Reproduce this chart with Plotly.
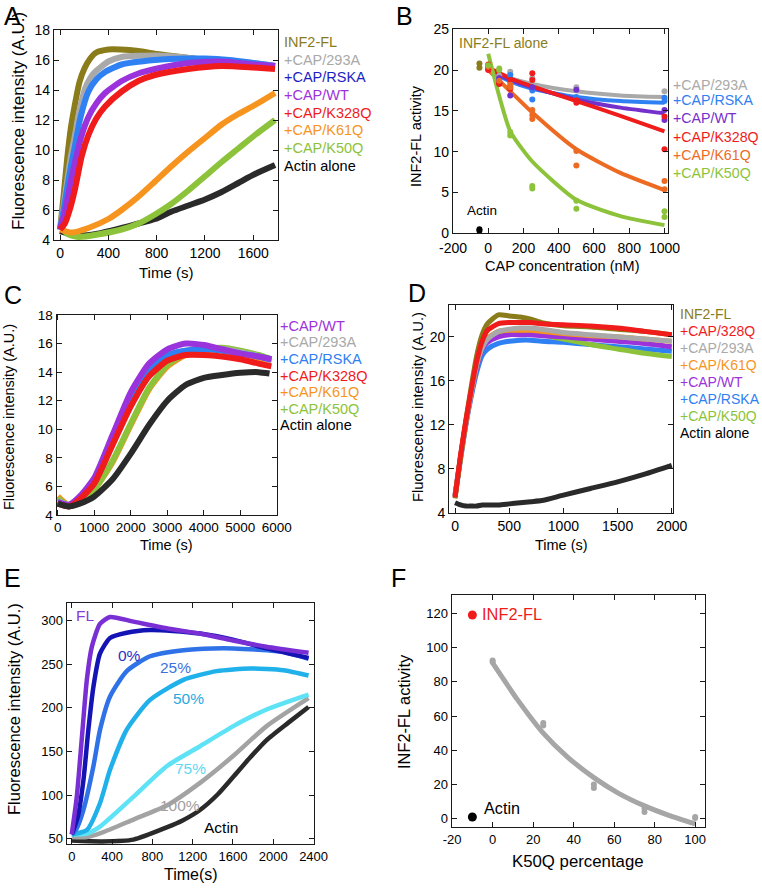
import plotly.graph_objects as go

W, H = 762, 888
FONT = "Liberation Sans, Arial, Helvetica, sans-serif"

OLIVE = "#8a7c1a"
GRAY = "#a9a9a9"
BLUE = "#2f80f2"
NAVY = "#1e1ec4"
PURPLE = "#9b33dc"
VIOLET = "#7530cc"
RED = "#f01b1b"
ORANGE = "#f7941d"
DKORANGE = "#ec6a22"
GREEN = "#8cc33a"
BLACK = "#2a2a2a"

# ---------------- panel A (time in s, fluorescence A.U.)
a_t_fl = [0, 30, 60, 90, 120, 160, 200, 250, 300, 400, 500, 650, 800, 1000, 1200, 1400, 1600, 1780]
a_fl = [4.7, 7.0, 9.5, 11.5, 12.9, 14.5, 15.4, 16.1, 16.5, 16.7, 16.7, 16.6, 16.4, 16.2, 16.0, 15.9, 15.7, 15.6]
a_t_293a = [0, 30, 60, 90, 124, 160, 207, 250, 290, 400, 510, 800, 1000, 1200, 1400, 1600, 1780]
a_293a = [4.7, 6.3, 8.0, 9.6, 11.0, 12.6, 14.1, 14.8, 15.2, 15.9, 16.2, 16.3, 16.2, 16.0, 15.9, 15.8, 15.6]
a_t_rska = [0, 30, 60, 90, 124, 170, 235, 300, 373, 510, 786, 1062, 1200, 1400, 1600, 1780]
a_rska = [4.7, 6.0, 7.5, 8.9, 10.3, 12.2, 13.9, 14.7, 15.2, 15.7, 16.0, 16.1, 16.1, 16.0, 15.8, 15.6]
a_t_wt = [0, 40, 80, 124, 180, 235, 300, 373, 510, 648, 786, 1062, 1338, 1600, 1780]
a_wt = [4.7, 5.9, 7.5, 9.2, 11.0, 12.2, 13.1, 13.8, 14.6, 15.1, 15.4, 15.8, 15.9, 15.7, 15.6]
a_t_k328q = [0, 40, 80, 124, 180, 235, 300, 373, 510, 648, 786, 1062, 1338, 1600, 1780]
a_k328q = [4.7, 5.1, 6.0, 7.4, 9.6, 11.0, 12.1, 12.9, 13.9, 14.6, 15.0, 15.4, 15.6, 15.5, 15.4]
a_t_k61q = [0, 100, 235, 400, 510, 650, 786, 920, 1062, 1200, 1338, 1476, 1614, 1780]
a_k61q = [4.7, 4.5, 4.8, 5.4, 6.0, 6.9, 7.9, 8.9, 9.9, 10.8, 11.7, 12.4, 13.0, 13.8]
a_t_k50q = [0, 60, 150, 300, 510, 650, 786, 920, 1062, 1200, 1338, 1476, 1614, 1780]
a_k50q = [5.0, 4.4, 4.2, 4.35, 4.7, 5.1, 5.7, 6.4, 7.3, 8.25, 9.2, 10.1, 11.0, 12.0]
a_t_actin = [0, 150, 300, 510, 650, 786, 924, 1062, 1200, 1338, 1476, 1614, 1780]
a_actin = [4.6, 4.3, 4.4, 4.8, 5.1, 5.4, 5.9, 6.3, 6.7, 7.2, 7.8, 8.4, 9.0]

# ---------------- panel B (CAP nM vs activity)
b_fit_x = [0, 125, 250, 500, 750, 1000]
b_fit_293a = [20.0, 19.0, 18.3, 17.4, 16.9, 16.7]
b_fit_rska = [20.0, 18.6, 17.7, 16.7, 16.2, 16.0]
b_fit_wt = [20.0, 18.8, 17.9, 16.4, 15.4, 14.7]
b_fit_k328q = [20.3, 19.0, 18.0, 16.2, 14.4, 12.5]
b_fit_k61q = [20.0, 17.4, 14.8, 10.3, 7.4, 5.3]
b_fit_x50 = [0, 62.5, 125, 250, 500, 750, 1000]
b_fit_k50q = [22.0, 16.8, 12.5, 8.8, 4.1, 2.1, 1.0]

b_293a_x = [0, 0, 62.5, 125, 125, 250, 500, 1000]
b_293a_y = [20.5, 20.3, 19.3, 19.8, 19.5, 19.0, 17.9, 17.4]
b_rska_x = [0, 62.5, 125, 125, 250, 250, 500, 1000, 1000]
b_rska_y = [20.3, 19.0, 19.4, 18.6, 17.5, 16.4, 16.7, 16.6, 16.2]
b_wt_x = [0, 62.5, 62.5, 125, 125, 250, 500, 1000, 1000]
b_wt_y = [20.1, 19.0, 18.6, 18.0, 16.9, 17.9, 17.6, 15.1, 13.9]
b_k328q_x = [0, 0, 62.5, 62.5, 125, 125, 250, 250, 500, 500, 1000, 1000]
b_k328q_y = [20.7, 20.0, 18.4, 18.3, 18.8, 17.7, 19.6, 18.8, 16.0, 16.3, 14.3, 10.3]
b_k61q_x = [0, 62.5, 125, 125, 250, 250, 250, 500, 500, 1000, 1000]
b_k61q_y = [20.4, 18.7, 18.2, 17.9, 15.1, 14.5, 14.0, 10.1, 8.3, 6.4, 5.4]
b_k50q_x = [0, 62.5, 62.5, 125, 125, 250, 250, 500, 500, 1000, 1000]
b_k50q_y = [20.6, 20.2, 20.0, 12.4, 12.0, 5.8, 5.5, 4.0, 3.0, 2.7, 2.0]
b_fl_x = [-50, -50]
b_fl_y = [20.8, 20.3]
b_actin_x = [-50, -50]
b_actin_y = [0.5, 0.3]
b_xticks = [-200, 0, 200, 400, 600, 800, 1000]
b_xticktext = ["-200", "0", "200", "400", "600", "800", "1000"]

# ---------------- panel C
c_t = [0, 300, 600, 1000, 1500, 2000, 2500, 3000, 3500, 4000, 4500, 5000, 5500, 5850]
c_wt = [4.9, 4.7, 5.3, 6.6, 9.6, 12.6, 14.6, 15.6, 16.0, 15.9, 15.6, 15.3, 15.1, 14.9]
c_rska = [4.9, 4.7, 5.2, 6.4, 9.3, 12.2, 14.2, 15.2, 15.5, 15.6, 15.5, 15.3, 15.1, 14.9]
c_293a = [5.0, 4.7, 5.2, 6.3, 9.0, 11.9, 14.0, 15.1, 15.5, 15.6, 15.6, 15.4, 15.1, 14.8]
c_k328q = [4.8, 4.6, 5.1, 6.2, 8.9, 11.6, 13.7, 14.8, 15.2, 15.2, 15.1, 14.9, 14.6, 14.4]
c_k61q = [5.3, 4.7, 5.0, 5.8, 7.7, 10.3, 12.8, 14.4, 15.2, 15.5, 15.6, 15.4, 15.0, 14.7]
c_k50q = [5.2, 4.6, 5.0, 5.8, 7.8, 10.4, 12.9, 14.5, 15.3, 15.6, 15.7, 15.5, 15.2, 14.9]
c_t_actin = [0, 300, 600, 1000, 1500, 2000, 2500, 3000, 3500, 4000, 4500, 5000, 5500, 5800]
c_actin = [4.8, 4.6, 4.8, 5.3, 6.5, 8.3, 10.3, 12.0, 13.1, 13.6, 13.8, 13.95, 14.0, 13.9]

# ---------------- panel D
d_t = [0, 50, 100, 150, 200, 250, 300, 400, 500, 600, 700, 800, 1000, 1250, 1500, 1750, 2000]
d_fl = [5.3, 9.0, 12.4, 15.5, 18.3, 20.2, 21.2, 22.0, 21.9, 21.8, 21.6, 21.3, 21.0, 20.9, 20.7, 20.5, 20.2]
d_328q = [5.4, 9.2, 12.4, 15.2, 17.8, 19.6, 20.6, 21.2, 21.3, 21.3, 21.3, 21.2, 21.1, 21.0, 20.8, 20.5, 20.2]
d_293a = [5.5, 9.0, 12.2, 15.0, 17.5, 19.0, 19.8, 20.5, 20.7, 20.8, 20.8, 20.7, 20.4, 20.2, 20.0, 19.8, 19.6]
d_k61q = [5.5, 9.0, 12.2, 15.0, 17.5, 19.1, 19.9, 20.5, 20.6, 20.6, 20.6, 20.5, 20.3, 20.1, 20.0, 19.8, 19.6]
d_wt = [5.6, 9.0, 12.1, 14.9, 17.3, 18.9, 19.5, 20.0, 20.2, 20.2, 20.2, 20.1, 20.0, 19.8, 19.6, 19.4, 19.1]
d_rska = [5.5, 8.8, 12.0, 14.6, 16.8, 18.3, 18.9, 19.4, 19.6, 19.7, 19.7, 19.6, 19.5, 19.3, 19.1, 18.9, 18.7]
d_k50q = [5.6, 9.0, 12.2, 15.0, 17.4, 19.0, 19.8, 20.3, 20.4, 20.4, 20.4, 20.2, 19.8, 19.3, 18.9, 18.5, 18.2]
d_actin = [4.9, 4.7, 4.6, 4.6, 4.6, 4.7, 4.7, 4.7, 4.8, 4.9, 5.0, 5.1, 5.6, 6.2, 6.8, 7.5, 8.3]

# ---------------- panel E
e_t_fl = [0, 50, 100, 150, 200, 280, 380, 600, 940, 1270, 1600, 1930, 2350]
e_fl = [55, 98, 165, 232, 270, 296, 304, 299, 291, 285, 277, 270, 263]
e_t_0 = [0, 60, 116, 165, 215, 280, 380, 546, 777, 1000, 1273, 1600, 1934, 2350]
e_0 = [55, 75, 117, 175, 224, 262, 280, 286, 289, 288, 285, 278, 268, 257]
e_t_25 = [0, 50, 116, 215, 281, 380, 546, 777, 1108, 1400, 1604, 2100, 2350]
e_25 = [55, 62, 83, 133, 175, 213, 242, 259, 266, 268, 268, 264, 256]
e_t_50 = [0, 150, 281, 380, 546, 777, 1108, 1438, 1769, 2100, 2350]
e_50 = [55, 60, 91, 129, 175, 209, 232, 242, 245, 243, 237]
e_t_75 = [0, 150, 281, 612, 942, 1273, 1604, 1934, 2350]
e_75 = [55, 56, 64, 98, 133, 156, 179, 198, 215]
e_t_100 = [0, 150, 300, 612, 942, 1273, 1604, 1934, 2350]
e_100 = [52, 52, 57, 72, 88, 114, 145, 179, 211]
e_t_actin = [0, 300, 612, 942, 1100, 1273, 1450, 1604, 1770, 1934, 2150, 2350]
e_actin = [48, 47, 49, 63, 71, 83, 101, 121, 143, 163, 183, 201]

# ---------------- panel F
f_fit_x = [0, 12, 25, 37, 50, 62, 75, 87, 100]
f_fit_y = [91, 70, 50, 36, 24, 15, 7.5, 2, -3]
f_pts_x = [0, 0, 25, 25, 50, 50, 75, 75, 100, 100]
f_pts_y = [92.5, 91.5, 56, 54.5, 20, 18, 6, 4, 1, 0.5]
f_fl_x = [-10]
f_fl_y = [119]
f_actin_x = [-10]
f_actin_y = [1]
f_xticks = [-20, 0, 20, 40, 60, 80, 100]
f_xticktext = ["-20", "0", "20", "40", "60", "80", "100"]

fig = go.Figure()


def curve(ax, x, y, color, width):
    fig.add_trace(go.Scatter(x=x, y=y, mode="lines", line=dict(color=color, width=width, shape="spline", smoothing=0.6),
                             xaxis="x" + ax, yaxis="y" + ax, showlegend=False, hoverinfo="skip"))


def dots(ax, x, y, color, size):
    fig.add_trace(go.Scatter(x=x, y=y, mode="markers", marker=dict(color=color, size=size),
                             xaxis="x" + ax, yaxis="y" + ax, showlegend=False, hoverinfo="skip"))


# A
for t, v, c in [(a_t_actin, a_actin, BLACK), (a_t_k50q, a_k50q, GREEN), (a_t_k61q, a_k61q, ORANGE),
                (a_t_fl, a_fl, OLIVE), (a_t_293a, a_293a, GRAY), (a_t_rska, a_rska, BLUE),
                (a_t_wt, a_wt, PURPLE), (a_t_k328q, a_k328q, RED)]:
    curve("", t, v, c, 6)

# B
for x, y, c in [(b_fit_x, b_fit_293a, GRAY), (b_fit_x, b_fit_rska, BLUE), (b_fit_x, b_fit_wt, VIOLET),
                (b_fit_x, b_fit_k328q, RED), (b_fit_x, b_fit_k61q, DKORANGE), (b_fit_x50, b_fit_k50q, GREEN)]:
    curve("2", x, y, c, 4)
for x, y, c in [(b_293a_x, b_293a_y, GRAY), (b_rska_x, b_rska_y, BLUE), (b_wt_x, b_wt_y, VIOLET),
                (b_k328q_x, b_k328q_y, RED), (b_k61q_x, b_k61q_y, DKORANGE), (b_k50q_x, b_k50q_y, GREEN),
                (b_fl_x, b_fl_y, OLIVE), (b_actin_x, b_actin_y, "black")]:
    dots("2", x, y, c, 6)

# C
for v, c in [(c_k61q, ORANGE), (c_k50q, GREEN), (c_293a, GRAY), (c_rska, BLUE), (c_wt, PURPLE), (c_k328q, RED)]:
    curve("3", c_t, v, c, 6)
curve("3", c_t_actin, c_actin, BLACK, 6)

# D
curve("4", d_t, d_actin, BLACK, 5)
for v, c in [(d_rska, BLUE), (d_k50q, GREEN), (d_wt, PURPLE), (d_k61q, ORANGE), (d_293a, GRAY),
             (d_fl, OLIVE), (d_328q, RED)]:
    curve("4", d_t, v, c, 5)

# E
for t, v, c in [(e_t_actin, e_actin, BLACK), (e_t_100, e_100, "#a3a3a3"), (e_t_75, e_75, "#5ee2f6"),
                (e_t_50, e_50, "#20b0ea"), (e_t_25, e_25, "#2f72e8"), (e_t_0, e_0, "#1414b4"),
                (e_t_fl, e_fl, "#7a2fd4")]:
    curve("5", t, v, c, 4.5)

# F
curve("6", f_fit_x, f_fit_y, "#a6a6a6", 5)
dots("6", f_pts_x, f_pts_y, "#a6a6a6", 6)
dots("6", f_fl_x, f_fl_y, "#f01b1b", 9)
dots("6", f_actin_x, f_actin_y, "black", 9)

# panel boxes in page pixels: (left, right, top, bottom)
boxes = {
    "": ((54, 278.3, 30, 240), [-50, 1807], [4, 18], 14),
    "2": ((453, 668, 29.3, 233.3), [-200, 1020], [0, 25], 14),
    "3": ((56.7, 277, 315, 515), [-30, 6005], [4, 18], 13.5),
    "4": ((449.3, 673.3, 305, 513), [-53, 2014], [3.97, 22.9], 14),
    "5": ((66.7, 314.3, 603, 844), [-50, 2407], [44, 320], 13),
    "6": ((451.7, 705.3, 595, 827.3), [-20.2, 105], [-5, 130.7], 13),
}
xticks = {"": list(range(0, 1601, 400)), "2": b_xticks, "3": list(range(0, 6001, 1000)),
          "4": list(range(0, 2001, 500)), "5": list(range(0, 2401, 400)), "6": f_xticks}
xtext = {"2": b_xticktext, "6": f_xticktext}
yticks = {"": list(range(4, 19, 2)), "2": list(range(0, 26, 5)), "3": list(range(4, 19, 2)),
          "4": [4, 8, 12, 16, 20], "5": list(range(50, 301, 50)), "6": list(range(0, 121, 20))}

common = dict(showline=True, linecolor="#1a1a1a", linewidth=1.3, mirror="ticks", ticks="inside", ticklen=5,
              tickwidth=1, tickcolor="#1a1a1a", showgrid=False, zeroline=False, automargin=False)
for ax, ((l, r, t, b), xr, yr, fs) in boxes.items():
    xa = dict(common, domain=[l / W, r / W], range=xr, anchor="y" + ax, tickvals=xticks[ax],
              tickfont=dict(size=fs, color="black", family=FONT))
    if ax in xtext:
        xa["ticktext"] = xtext[ax]
    ya = dict(common, domain=[1 - b / H, 1 - t / H], range=yr, anchor="x" + ax, tickvals=yticks[ax],
              tickfont=dict(size=fs, color="black", family=FONT))
    fig.layout["xaxis" + ax] = xa
    fig.layout["yaxis" + ax] = ya
fig.layout.xaxis2.ticklabelstandoff = 2

ann = []


def text(x, y, s, color="black", size=14.5, anchor="left", angle=0):
    ann.append(dict(x=x / W, y=1 - y / H, xref="paper", yref="paper", text=s, showarrow=False,
                    xanchor=anchor, yanchor="middle", textangle=angle, borderpad=0,
                    font=dict(family=FONT, size=size, color=color)))


# panel letters
for s, x, y in [("A", 3, 16), ("B", 395, 16), ("C", 3, 295), ("D", 407, 293), ("E", 3, 578), ("F", 390, 578)]:
    text(x, y, s, size=25)

# axis titles
text(166, 272, "Time (s)", size=15, anchor="center")
text(18, 121, "Fluorescence intensity (A.U.)", size=17, anchor="center", angle=-90)
text(562, 266, "CAP concentration (nM)", size=14.5, anchor="center")
text(416, 136, "INF2-FL activity", size=14.5, anchor="center", angle=-90)
text(166, 545, "Time (s)", size=14.5, anchor="center")
text(9, 417, "Fluorescence intensity (A.U.)", size=14.5, anchor="center", angle=-90)
text(561, 545, "Time (s)", size=14.5, anchor="center")
text(418, 407, "Fluorescence intensity (A.U.)", size=14.8, anchor="center", angle=-90)
text(191, 874, "Time(s)", size=16, anchor="center")
text(14, 709, "Fluorescence intensity (A.U.)", size=16.5, anchor="center", angle=-90)
text(578, 861, "K50Q percentage", size=16.8, anchor="center")
text(404, 712, "INF2-FL activity", size=16.4, anchor="center", angle=-90)

# A labels
a_labels = [("INF2-FL", OLIVE), ("+CAP/293A", GRAY), ("+CAP/RSKA", NAVY), ("+CAP/WT", PURPLE),
            ("+CAP/K328Q", RED), ("+CAP/K61Q", ORANGE), ("+CAP/K50Q", GREEN), ("Actin alone", "black")]
for i, (s, c) in enumerate(a_labels):
    text(283, 42 + i * 17.7, s, c)

# B labels
b_labels = [("+CAP/293A", GRAY, 85), ("+CAP/RSKA", BLUE, 100), ("+CAP/WT", VIOLET, 118.3),
            ("+CAP/K328Q", RED, 136.7), ("+CAP/K61Q", DKORANGE, 155), ("+CAP/K50Q", GREEN, 173.3)]
for s, c, y in b_labels:
    text(672, y, s, c, size=14.2)
text(458, 43, "INF2-FL alone", OLIVE, size=14)
text(466, 211, "Actin", "black", size=13.5)

# C labels
c_labels = [("+CAP/WT", PURPLE), ("+CAP/293A", GRAY), ("+CAP/RSKA", BLUE), ("+CAP/K328Q", RED),
            ("+CAP/K61Q", ORANGE), ("+CAP/K50Q", GREEN), ("Actin alone", "black")]
for i, (s, c) in enumerate(c_labels):
    text(279, 325.7 + i * 16.6, s, c)

# D labels
d_labels = [("INF2-FL", OLIVE), ("+CAP/328Q", RED), ("+CAP/293A", GRAY), ("+CAP/K61Q", ORANGE),
            ("+CAP/WT", PURPLE), ("+CAP/RSKA", BLUE), ("+CAP/K50Q", GREEN), ("Actin alone", "black")]
for i, (s, c) in enumerate(d_labels):
    text(679, 314 + i * 17, s, c, size=14)

# E labels
for s, c, x, y in [("FL", "#8a3ad8", 75, 615), ("0%", "#2a30c8", 117, 655), ("25%", "#3a72e0", 159, 667),
                   ("50%", "#28a8e0", 172, 698), ("75%", "#5fd8f0", 174, 768), ("100%", "#a0a0a0", 159, 805),
                   ("Actin", "black", 203, 827)]:
    text(x, y, s, c, size=15.5)

# F labels
text(481, 614, "INF2-FL", "#f01b1b", size=16.4)
text(483, 808, "Actin", "black", size=16.2)

fig.update_layout(width=W, height=H, margin=dict(l=0, r=0, t=0, b=0, autoexpand=False), plot_bgcolor="white",
                  paper_bgcolor="white", annotations=ann, showlegend=False, font=dict(family=FONT))

# the page body has a default 8px margin; drop it so the figure sits at the window's corner
fig.write_html("out.html", config={"displayModeBar": False},
               post_script="document.body.style.margin='0px';")
